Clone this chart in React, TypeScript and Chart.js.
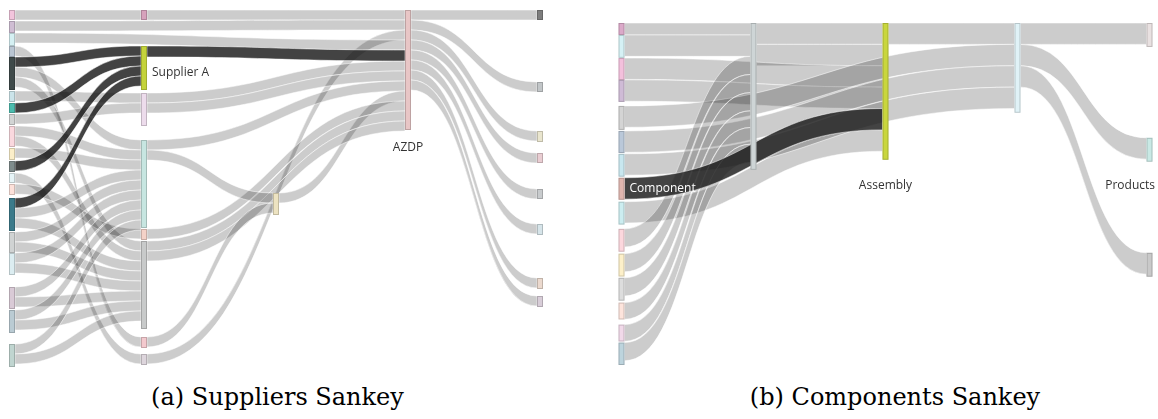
import React, { useEffect, useRef } from "react";
import { Chart, registerables } from "chart.js";

Chart.register(...registerables);

// ---------------- (a) Suppliers Sankey : data ----------------
const supNodeIds = [
  "L0", "L1", "L2", "L3", "L4", "L5", "L6", "L7", "L8", "L9", "L10", "L11", "L12", "L13", "L14", "L15", "L16", "L17", "L18",
  "M0", "M1", "M2", "M3", "M4", "M5", "M6", "M7",
  "C0", "AZDP",
  "R0", "R1", "R2", "R3", "R4", "R5", "R6", "R7",
];
const supNodeColumns = [
  0, 0, 0, 0, 0, 0, 0, 0, 0, 0, 0, 0, 0, 0, 0, 0, 0, 0, 0,
  1, 1, 1, 1, 1, 1, 1, 1,
  2, 3,
  4, 4, 4, 4, 4, 4, 4, 4,
];
// node start (cumulative value from the top) and node value
const supNodeOffsets = [
  0, 1.1, 2.3, 3.6, 4.7, 8.1, 9.3, 10.4, 11.6, 13.8, 15.1, 16.3, 17.4, 18.8, 22.2, 24.3, 27.7, 30.0, 33.4,
  0, 3.6, 8.3, 13.0, 21.9, 23.1, 32.7, 34.4,
  18.3, 0,
  0, 7.2, 12.1, 14.3, 17.9, 21.4, 26.8, 28.6,
];
const supNodeValues = [
  1.0, 1.2, 1.3, 1.1, 3.3, 1.1, 1.0, 1.1, 2.1, 1.2, 1.1, 1.0, 1.1, 3.3, 2.1, 2.2, 2.2, 2.3, 2.3,
  1.0, 4.4, 3.3, 8.8, 1.1, 8.8, 1.1, 1.1,
  2.2, 12.0,
  1.0, 1.0, 1.1, 1.0, 1.0, 1.1, 1.1, 1.1,
];
const supNodeColors = [
  "#f2c4dc", "#cfbdd3", "#d5f0f3", "#b9c5d2", "#3f4a4a", "#cbe4ea", "#4cbcae", "#d2d4d4", "#fad8de", "#fcefc9",
  "#7f8c8c", "#e6f4f7", "#fde1da", "#3b7a8a", "#d0d3d3", "#dcedf1", "#d9cad6", "#bacbd3", "#c0d5d0",
  "#d7a2bc", "#c4d33b", "#eddcec", "#c7e6e1", "#f4d2c8", "#c8caca", "#f3c9ce", "#ddd5dc",
  "#ede3c1", "#e8c6c6",
  "#7d7d7d", "#c2c6c8", "#e9e5ce", "#e9cdd2", "#c8cbcd", "#d6e4e9", "#ebd9ce", "#d8cdd8",
];
const supLinkSources = [
  "M0", "L1", "M7", "L2", "M1", "M2", "M2", "M3", "C0", "M4", "M5", "M5",
  "L0", "L3", "L4", "L4", "L4", "L5", "L6", "L7", "L8", "L8", "L9", "L10", "L11", "L12",
  "L13", "L13", "L13", "L14", "L14", "L15", "L15", "L16", "L16", "L17", "L17", "L18", "L18",
  "M3", "M6",
  "AZDP", "AZDP", "AZDP", "AZDP", "AZDP", "AZDP", "AZDP", "AZDP",
];
const supLinkTargets = [
  "AZDP", "AZDP", "AZDP", "AZDP", "AZDP", "AZDP", "AZDP", "AZDP", "AZDP", "AZDP", "AZDP", "AZDP",
  "M0", "M6", "M1", "M3", "M5", "M2", "M1", "M2", "M3", "M5", "M3", "M1", "M7", "M4",
  "M1", "M3", "M5", "M3", "M5", "M3", "M5", "M3", "M5", "M3", "M5", "M3", "M5",
  "C0", "C0",
  "R0", "R1", "R2", "R3", "R4", "R5", "R6", "R7",
];
const supLinkValues = [
  1, 1, 1, 1, 1.1, 1, 1, 1, 1, 1, 1, 1,
  1, 1, 1, 1, 1, 1, 1, 1, 1, 1, 1, 1, 1, 1,
  1, 1, 1, 1, 1, 1, 1, 1, 1, 1, 1, 1, 1,
  1, 1,
  1, 1, 1, 1, 1, 1, 1, 1,
];
const supHighlightedLinks = [4, 14, 18, 23, 26]; // links of "Supplier A"
const supLabelNodes = ["M1", "AZDP"];
const supLabelTexts = ["Supplier A", "AZDP"];

// ---------------- (b) Components Sankey : data ----------------
const comNodeIds = [
  "N0", "N1", "N2", "N3", "N4", "N5", "N6", "N7", "N8", "N9", "N10", "N11", "N12", "N13", "N14",
  "K", "A", "D", "P0", "P1", "P2",
];
const comNodeColumns = [0, 0, 0, 0, 0, 0, 0, 0, 0, 0, 0, 0, 0, 0, 0, 1, 2, 3, 4, 4, 4];
const comNodeOffsets = [
  0, 0.56, 1.64, 2.66, 3.88, 5.05, 6.12, 7.24, 8.36, 9.63, 10.79, 11.92, 13.08, 14.11, 14.95,
  0, 0, 0, 0, 5.37, 10.75,
];
const comNodeValues = [
  0.56, 1.07, 1.03, 1.03, 1.12, 1.03, 1.07, 1.03, 1.07, 1.07, 1.07, 1.07, 0.79, 0.79, 1.05,
  6.87, 6.4, 4.2, 1.12, 1.12, 1.12,
];
const comNodeColors = [
  "#dba9c9", "#d5f1f5", "#f3c0dc", "#cfbbd6", "#d4d4d4", "#bac8d9", "#c8e7ef", "#dfb5ae", "#ccedf0", "#fcd7dd",
  "#fdf0c9", "#dddddd", "#fde4dc", "#f1d9e9", "#bdd4dd",
  "#ced5d6", "#c9d63d", "#e0f2f7", "#e9e1e1", "#c9e9e5", "#c9c9c9",
];
const comLinkSources = [
  "K", "K", "N2", "N3", "N7", "N8",
  "A", "N4", "N5", "N6",
  "N0", "N1", "N9", "N10", "N11", "N12", "N13", "N14",
  "D", "D", "D",
];
const comLinkTargets = [
  "A", "A", "A", "A", "A", "A",
  "D", "D", "D", "D",
  "K", "K", "K", "K", "K", "K", "K", "K",
  "P0", "P1", "P2",
];
const comLinkValues = [
  1, 1, 1, 1, 1, 1,
  1, 1, 1, 1,
  0.56, 1, 0.85, 0.85, 0.85, 0.78, 0.78, 0.85,
  1, 1, 1,
];
const comHighlightedLinks = [4]; // links of "Component"
const comLabelNodes = ["N7", "A", "P1"];
const comLabelTexts = ["Component", "Assembly", "Products"];

// ---------------- styles ----------------
const LINK_GREY = "rgba(0,0,0,0.2)";
const LINK_DARK = "rgba(20,20,20,0.8)";
const NODE_WIDTH = 6;

type SankeyCfg = {
  ids: string[];
  columns: number[];
  offsets: number[];
  values: number[];
  colors: string[];
  sources: string[];
  targets: string[];
  linkValues: number[];
  highlighted: number[];
  labelNodes: string[];
  labelTexts: string[];
  labelPlacement: string[];
  labelColors: string[];
  labelNudge: number[];
  labelGap: number;
  yMax: number;
  width: number;
  height: number;
  padding: { left: number; right: number; top: number; bottom: number };
};

function makeSankeyPlugin(cfg: SankeyCfg) {
  return {
    id: "sankeyFlows",
    beforeDatasetsDraw(chart: any) {
      const ctx: CanvasRenderingContext2D = chart.ctx;
      const xs = chart.scales.x;
      const ys = chart.scales.y;
      const idx = new Map<string, number>();
      cfg.ids.forEach((id, i) => idx.set(id, i));
      const outOff = cfg.offsets.slice();
      const inOff = cfg.offsets.slice();
      const geoms: any[] = [];
      cfg.sources.forEach((src, k) => {
        const a = idx.get(src)!;
        const b = idx.get(cfg.targets[k])!;
        const v = cfg.linkValues[k];
        const s0 = outOff[a];
        outOff[a] += v;
        const t0 = inOff[b];
        inOff[b] += v;
        geoms.push({
          x0: xs.getPixelForValue(cfg.columns[a]) + NODE_WIDTH / 2,
          x1: xs.getPixelForValue(cfg.columns[b]) - NODE_WIDTH / 2,
          ya0: ys.getPixelForValue(s0),
          ya1: ys.getPixelForValue(s0 + v),
          yb0: ys.getPixelForValue(t0),
          yb1: ys.getPixelForValue(t0 + v),
          hi: cfg.highlighted.includes(k),
        });
      });
      ctx.save();
      const drawLink = (g: any) => {
        const xm = (g.x0 + g.x1) / 2;
        ctx.beginPath();
        ctx.moveTo(g.x0, g.ya0);
        ctx.bezierCurveTo(xm, g.ya0, xm, g.yb0, g.x1, g.yb0);
        ctx.lineTo(g.x1, g.yb1);
        ctx.bezierCurveTo(xm, g.yb1, xm, g.ya1, g.x0, g.ya1);
        ctx.closePath();
        ctx.fillStyle = g.hi ? LINK_DARK : LINK_GREY;
        ctx.fill();
        ctx.strokeStyle = "rgba(255,255,255,0.85)";
        ctx.lineWidth = 0.6;
        ctx.stroke();
      };
      geoms.filter((g) => !g.hi).forEach(drawLink);
      geoms.filter((g) => g.hi).forEach(drawLink);

      // nodes
      cfg.ids.forEach((_id, i) => {
        const xc = xs.getPixelForValue(cfg.columns[i]);
        const yt = ys.getPixelForValue(cfg.offsets[i]);
        const yb = ys.getPixelForValue(cfg.offsets[i] + cfg.values[i]);
        ctx.fillStyle = cfg.colors[i];
        ctx.fillRect(xc - NODE_WIDTH / 2, yt, NODE_WIDTH, yb - yt);
        ctx.strokeStyle = "rgba(0,0,0,0.18)";
        ctx.lineWidth = 1;
        ctx.strokeRect(xc - NODE_WIDTH / 2 + 0.5, yt + 0.5, NODE_WIDTH - 1, yb - yt - 1);
      });

      // labels
      ctx.font = '12px "Open Sans", "Noto Sans", sans-serif';
      cfg.labelNodes.forEach((id, j) => {
        const i = idx.get(id)!;
        const xc = xs.getPixelForValue(cfg.columns[i]);
        const yt = ys.getPixelForValue(cfg.offsets[i]);
        const yb = ys.getPixelForValue(cfg.offsets[i] + cfg.values[i]);
        const text = cfg.labelTexts[j];
        ctx.fillStyle = cfg.labelColors[j];
        ctx.textBaseline = "middle";
        ctx.textAlign = "left";
        if (cfg.labelPlacement[j] === "right") {
          ctx.fillText(text, xc + NODE_WIDTH / 2 + 5, (yt + yb) / 2 + cfg.labelNudge[j]);
        } else {
          const w = ctx.measureText(text).width;
          let left = xc - w / 2;
          left = Math.min(left, chart.width - 3 - w);
          ctx.fillText(text, left, yb + cfg.labelGap + cfg.labelNudge[j]);
        }
      });
      ctx.restore();
    },
  };
}

const supCfg: SankeyCfg = {
  ids: supNodeIds,
  columns: supNodeColumns,
  offsets: supNodeOffsets,
  values: supNodeValues,
  colors: supNodeColors,
  sources: supLinkSources,
  targets: supLinkTargets,
  linkValues: supLinkValues,
  highlighted: supHighlightedLinks,
  labelNodes: supLabelNodes,
  labelTexts: supLabelTexts,
  labelPlacement: ["right", "below"],
  labelColors: ["#333333", "#333333"],
  labelNudge: [5, 0],
  labelGap: 18,
  yMax: 35.7,
  width: 570,
  height: 380,
  padding: { left: 12, right: 30, top: 10, bottom: 13 },
};

const comCfg: SankeyCfg = {
  ids: comNodeIds,
  columns: comNodeColumns,
  offsets: comNodeOffsets,
  values: comNodeValues,
  colors: comNodeColors,
  sources: comLinkSources,
  targets: comLinkTargets,
  linkValues: comLinkValues,
  highlighted: comHighlightedLinks,
  labelNodes: comLabelNodes,
  labelTexts: comLabelTexts,
  labelPlacement: ["right", "below", "below"],
  labelColors: ["#ffffff", "#333333", "#333333"],
  labelNudge: [0, 0, -2],
  labelGap: 26,
  yMax: 16,
  width: 588,
  height: 380,
  padding: { left: 51.5, right: 8.5, top: 23, bottom: 15 },
};

function SankeyCanvas({ cfg, left }: { cfg: SankeyCfg; left: number }) {
  const ref = useRef<HTMLCanvasElement>(null);
  useEffect(() => {
    const chart = new Chart(ref.current!, {
      type: "scatter",
      data: { datasets: [{ data: [] }] },
      options: {
        animation: false,
        responsive: false,
        devicePixelRatio: 1,
        events: [],
        layout: { padding: cfg.padding },
        scales: {
          x: { type: "linear", display: false, min: 0, max: 4 },
          y: { type: "linear", display: false, min: 0, max: cfg.yMax, reverse: true },
        },
        plugins: { legend: { display: false }, tooltip: { enabled: false }, title: { display: false } },
      },
      plugins: [makeSankeyPlugin(cfg)],
    } as any);
    return () => chart.destroy();
  }, [cfg]);
  return (
    <canvas
      ref={ref}
      width={cfg.width}
      height={cfg.height}
      style={{ position: "absolute", left, top: 0, width: cfg.width, height: cfg.height }}
    />
  );
}

const captionStyle: React.CSSProperties = {
  position: "absolute",
  top: 385,
  fontFamily: '"DejaVu Serif", serif',
  fontSize: 24,
  lineHeight: "24px",
  textAlign: "center",
  color: "#000",
  whiteSpace: "nowrap",
};

export default function App() {
  return (
    <div style={{ position: "absolute", left: 0, top: 0, width: 1158, height: 419, background: "#fff", overflow: "hidden" }}>
      <SankeyCanvas cfg={supCfg} left={0} />
      <SankeyCanvas cfg={comCfg} left={570} />
      <div style={{ ...captionStyle, left: 0, width: 555 }}>(a) Suppliers Sankey</div>
      <div style={{ ...captionStyle, left: 595, width: 600 }}>(b) Components Sankey</div>
    </div>
  );
}
